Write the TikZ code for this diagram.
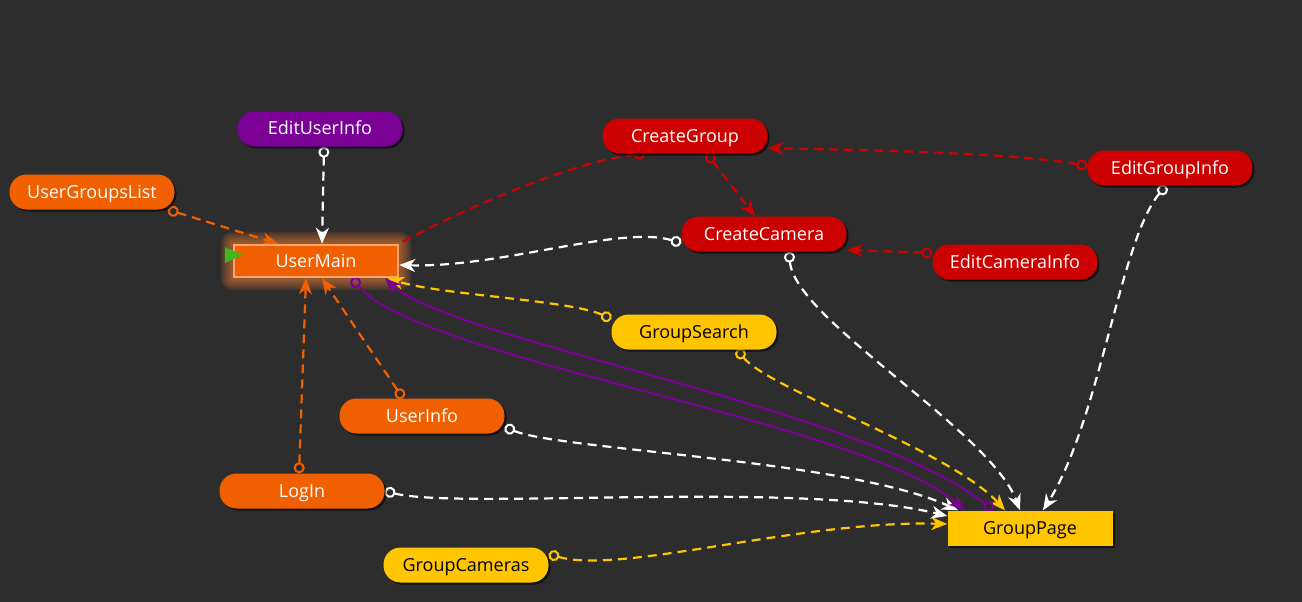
\documentclass[tikz,border=0pt]{standalone}
\usepackage{fontspec}
\setmainfont{Open Sans}
\usetikzlibrary{arrows.meta,shadows}
\pgfdeclarelayer{bg}
\pgfsetlayers{bg,main}
\definecolor{canvas}{HTML}{2D2D2D}
\definecolor{navorange}{HTML}{F06000}
\definecolor{navred}{HTML}{CC0000}
\definecolor{navpurple}{HTML}{7A0096}
\definecolor{navyellow}{HTML}{FFC600}
\definecolor{mainrim}{HTML}{FFA46E}
\definecolor{startgreen}{HTML}{3CBA1E}

\begin{document}
\begin{tikzpicture}[x=1pt,y=-1pt,
  screen/.style={minimum width=165pt,minimum height=35pt,inner sep=0pt,
    rounded corners=17pt,font=\fontsize{18}{21}\selectfont,text=white,
    text height=12pt,text depth=0pt,
    drop shadow={shadow xshift=2pt,shadow yshift=-2pt,opacity=0.6,fill=black}},
  page/.style={screen,rounded corners=0pt},
  mainscreen/.style={minimum width=164pt,minimum height=32pt,inner sep=0pt,
    font=\fontsize{18}{21}\selectfont,text=white,fill=navorange,
    text height=12pt,text depth=0pt,draw=mainrim,line width=2.5pt},
  link/.style={line width=2.2pt,dash pattern=on 9pt off 6pt,
    {Circle[open,length=11pt,width=11pt,line width=2pt]}-{Stealth[length=16pt,width=13pt,inset=5pt]}},
  openlink/.style={line width=2.2pt,dash pattern=on 9pt off 6pt,
    {Circle[open,length=11pt,width=11pt,line width=2pt]}-},
  flow/.style={line width=2pt,navpurple,
    {Circle[open,length=11pt,width=11pt,line width=2pt]}-{Stealth[length=16pt,width=13pt,inset=5pt]}}]

\useasboundingbox (0,0) rectangle (1302,602);

% Screens
\node[screen,fill=navpurple] (editUser) at (320,129) {EditUserInfo};
\node[screen,fill=navorange] (groupsList) at (92,192) {UserGroupsList};
\node[mainscreen] (userMain) at (316,261) {UserMain};
\node[screen,fill=navred] (createGroup) at (685,136) {CreateGroup};
\node[screen,fill=navred] (createCamera) at (764,234) {CreateCamera};
\node[screen,fill=navred] (editGroup) at (1170,168) {EditGroupInfo};
\node[screen,fill=navred] (editCamera) at (1015,262) {EditCameraInfo};
\node[screen,fill=navyellow,text=black] (groupSearch) at (694,332) {GroupSearch};
\node[screen,fill=navorange] (userInfo) at (422,416) {UserInfo};
\node[screen,fill=navorange] (logIn) at (302,491) {LogIn};
\node[screen,fill=navyellow,text=black] (groupCameras) at (466,565) {GroupCameras};
\node[page,fill=navyellow,text=black] (groupPage) at (1030,528) {GroupPage};

% start marker
\fill[startgreen] ([xshift=-8pt,yshift=14pt]userMain.west) -- ([xshift=10pt,yshift=6pt]userMain.west)
  -- ([xshift=-8pt,yshift=-2pt]userMain.west) -- cycle;

\begin{pgfonlayer}{bg}
  \fill[canvas] (0,0) rectangle (1302,602);
% glow
  \foreach \g in {12,10,...,2}
    \fill[navorange!80!white,opacity=0.12,rounded corners=\g pt]
      ([xshift=-\g pt,yshift=\g pt]userMain.north west) rectangle ([xshift=\g pt,yshift=-\g pt]userMain.south east);

% into UserMain
  \draw[link,white] ([xshift=4pt]editUser.south) -- ([xshift=6pt]userMain.north);
  \draw[link,navorange] ([xshift=76pt]groupsList.south) -- ([xshift=-38pt]userMain.north);
  \draw[openlink,navred] ([xshift=-40pt]createGroup.south) .. controls (580,160) and (470,205) .. (userMain.north east);
  \draw[link,white] ([yshift=-9pt]createCamera.west) .. controls (620,225) and (500,268) .. ([yshift=-4pt]userMain.east);
  \draw[link,navyellow] ([yshift=13pt]groupSearch.west) .. controls (570,300) and (440,295) .. ([xshift=72pt]userMain.south);
  \draw[link,navorange] ([xshift=-19pt]userInfo.north) -- ([xshift=6pt]userMain.south);
  \draw[link,navorange] ([xshift=-3pt]logIn.north) -- ([xshift=-10pt]userMain.south);

% red group
  \draw[link,navred] ([xshift=22pt]createGroup.south) -- ([xshift=-9pt]createCamera.north);
  \draw[link,navred] ([yshift=2pt]editGroup.west) .. controls (1010,152) and (850,150) .. ([yshift=-12pt]createGroup.east);
  \draw[link,navred] ([yshift=9pt]editCamera.west) -- ([yshift=-16pt]createCamera.east);

% into GroupPage
  \draw[link,white] ([xshift=25pt]createCamera.south) .. controls (795,320) and (990,430) .. ([xshift=-10pt]groupPage.north);
  \draw[link,white] ([xshift=-4pt]editGroup.south) .. controls (1120,240) and (1100,420) .. ([xshift=13pt]groupPage.north);
  \draw[link,navyellow] ([xshift=43pt]groupSearch.south) .. controls (770,390) and (950,450) .. ([xshift=-25pt]groupPage.north);
  \draw[link,white] ([yshift=-11pt]userInfo.east) .. controls (560,450) and (850,460) .. ([xshift=-72pt]groupPage.north);
  \draw[link,white] (logIn.east) .. controls (460,510) and (800,480) .. ([yshift=12pt]groupPage.west);
  \draw[link,navyellow] ([yshift=11pt]groupCameras.east) .. controls (620,575) and (800,520) .. ([yshift=4pt]groupPage.west);

% UserMain <-> GroupPage
  \draw[flow] ([xshift=36pt]userMain.south) .. controls (420,360) and (860,420) .. ([xshift=-65pt]groupPage.north);
  \draw[flow] ([xshift=-37pt]groupPage.north) .. controls (870,410) and (450,340) .. ([xshift=69pt]userMain.south);
\end{pgfonlayer}

\end{tikzpicture}
\end{document}
